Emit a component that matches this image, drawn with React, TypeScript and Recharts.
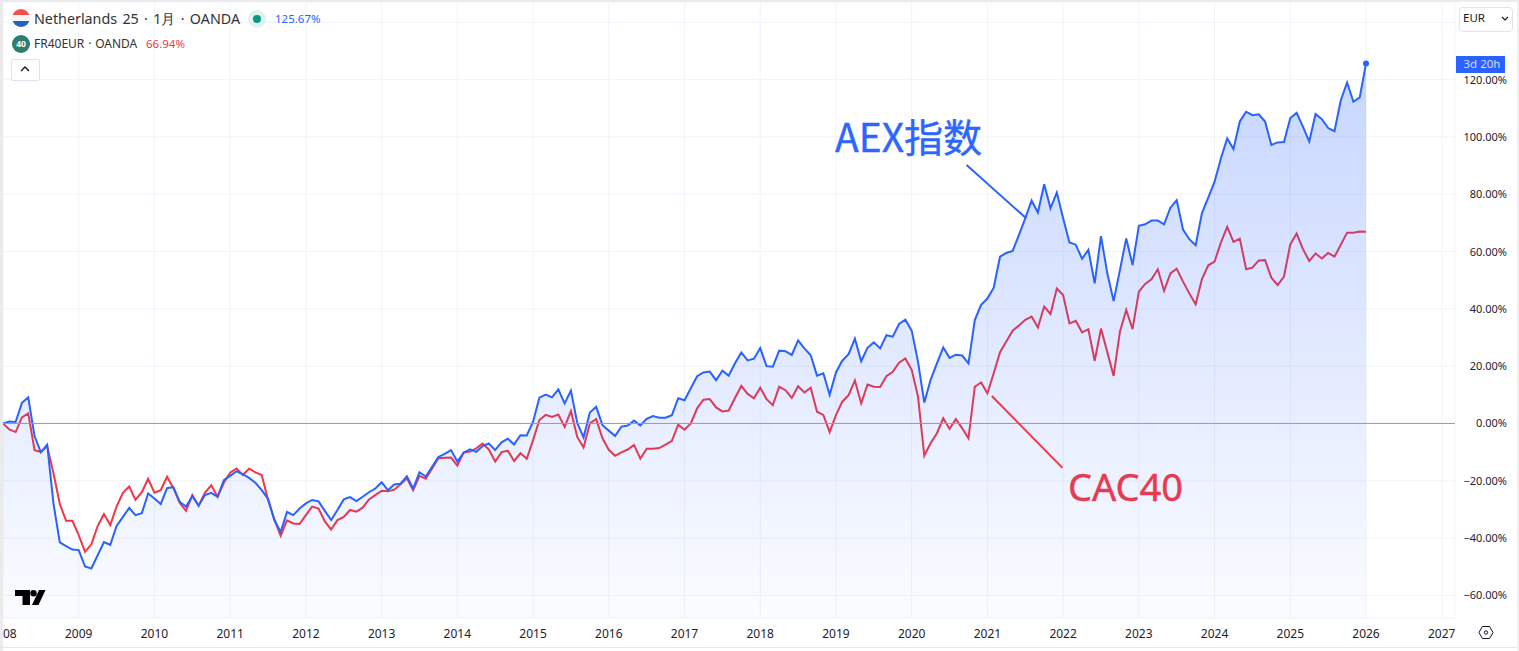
import React from "react";
import { ComposedChart, Area, Line, XAxis, YAxis, CartesianGrid, ReferenceLine, ReferenceDot } from "recharts";

const yearLabels = ["08","2009","2010","2011","2012","2013","2014","2015","2016","2017","2018","2019","2020","2021","2022","2023","2024","2025","2026","2027"];
const percentTicks = [-60,-40,-20,0,20,40,60,80,100,120,140];

const aexValues = [
  0,0.7,0.5,7.2,9.1,-4.4,-10.1,-7.4,-28,-41.5,-42.8,-44,
  -44.2,-49.9,-50.6,-46,-41.4,-42.4,-35.8,-32.6,-29.5,-32,-31.3,-24.4,
  -26.2,-28.1,-22.6,-22.2,-27.3,-29,-25.4,-28.7,-25,-24.2,-25.6,-19.8,
  -18.3,-16.7,-17.7,-19,-20.7,-23.3,-26.3,-33.7,-37.9,-30.9,-32,-29.7,
  -27.9,-26.7,-27.2,-30.5,-33.7,-30.2,-26.5,-25.7,-27.1,-25.6,-24,-22.7,
  -20.5,-23.3,-21.3,-21,-18.4,-22.7,-17,-18.5,-15.1,-11.7,-10.6,-9.3,
  -13.3,-10.2,-9,-9.9,-7.9,-7,-9.3,-6.6,-5.3,-7.3,-4.1,-4.2,
  0.6,9,10.1,9.1,11.9,7,11.5,0.2,-4.9,3.8,5.8,-0.6,
  -2.5,-4.4,-1.1,-0.7,1,-0.7,1.6,2.6,2,2,2.9,8.8,
  8.1,12.3,16.5,17.8,18.1,15.1,18.4,16.7,21,24.8,22,22.6,
  26.3,20,19.8,25.4,25.2,23.9,29,26.2,23.8,16.7,17.5,10,
  17.8,21.9,24.2,29.6,21.7,26.4,28.3,26.2,30.8,30.3,34.7,36.2,
  32.4,21.6,7.3,15.2,21,26.5,22.9,24,23.7,21,36.1,41.4,
  43.6,47.4,58.2,59.5,60.2,65.8,71.6,77.8,73.6,83.5,75.1,80.6,
  71.6,63.2,62.4,57.5,60.6,48.9,65.4,52.4,42.7,53.5,64.6,55.3,
  69,69.5,70.8,70.8,69.5,75.3,77.9,67.7,64.3,62.2,73.4,78.8,
  84.4,92.5,99.5,95.8,105.4,108.8,107.6,107.9,105.4,97.2,98.1,98.2,
  106.6,108.4,103.6,98.4,108,106.2,103.1,102,112.8,119,112.3,113.8,
  125.67,
];

const cacValues = [
  0,-2.1,-3,2.1,3.5,-9.3,-9.9,-7.9,-17.4,-28.1,-34,-34,
  -39,-44.8,-42.2,-35.8,-31.6,-35.5,-29,-24.2,-22,-26.7,-24,-19.3,
  -24.2,-23.3,-18.6,-22.6,-27.7,-30.5,-25,-28.7,-24.2,-21.6,-25.6,-20.7,
  -17.2,-15.7,-18,-15.8,-17.1,-18,-26.7,-33.5,-39.2,-33.8,-34.9,-35.1,
  -32,-29,-29.7,-34.2,-37,-33.7,-32.6,-30.2,-30.8,-29.4,-26.5,-25,
  -23.5,-23.7,-23.1,-21.2,-19.1,-23.3,-18.3,-19.3,-15.7,-12.1,-12,-11.9,
  -14.7,-10.1,-9.8,-8.7,-7,-9.1,-13.3,-10,-9.5,-13.1,-10.4,-12.3,
  -5.8,1.2,3,2.3,3.1,-1.2,4.3,-4.7,-8.4,0,1.5,-5.2,
  -9.2,-11.3,-10.1,-9.1,-7.5,-12.3,-8.8,-8.8,-8.6,-7.4,-6.1,-0.4,
  -2.2,0,5.3,8.3,8.5,5.6,4.2,4.5,8.9,13.1,10.3,8.8,
  12.5,8.5,6.4,12.8,11.6,8.9,13,10.8,12.5,4.1,3,-3,
  2.9,7.6,9.9,15,7,13.6,12.8,12.7,16.5,18,21.2,22.7,
  18.7,9.4,-11.2,-6.9,-3.4,1.8,-1.9,1.5,-1.7,-5.2,12.8,14.3,
  10.5,17.5,24.9,28.6,32.4,34.2,36.2,37.3,33.5,40.8,38.2,47.1,
  44.8,34.9,35.8,31.8,32.9,21.9,33.1,24.9,16.6,32,39.6,32.9,
  46,48.7,50.3,53.8,46.3,52.4,54,49.5,45.4,41.6,50.4,55.2,
  56.5,63.1,68.6,63.4,64.5,53.8,54.4,56.9,57,50.9,48.3,51.3,
  62.5,66.3,60.9,56.7,59.3,57.6,59.5,58.2,62.4,66.6,66.6,67,
  66.94,
];

const rows = aexValues.map((aex, month) => ({ month, aex, cac: cacValues[month] }));
const monthTicks = yearLabels.map((_, k) => k * 12);

const BLUE = "#2962ff";
const RED = "#f23645";
const INK = "#131722";
const FONT = "'Noto Sans', sans-serif";
const Y_BOTTOM = -67.9;
const Y_TOP = 147.1;

const XTick = (props: any) => {
  const { x, y, payload } = props;
  const first = payload.value === 0;
  return (
    <text x={first ? 3 : x} y={y + 12} textAnchor={first ? "start" : "middle"} fontFamily={FONT} fontSize={12} fill="#1e222d">
      {yearLabels[payload.value / 12]}
    </text>
  );
};

const YTick = (props: any) => {
  const { y, payload } = props;
  const v = payload.value as number;
  if (v === 140) return <g />;
  const s = (v < 0 ? "\u2212" : "") + Math.abs(v).toFixed(2) + "%";
  return (
    <text x={1507} y={y + 4} textAnchor="end" fontFamily={FONT} fontSize={11} fill="#1e222d">
      {s}
    </text>
  );
};

const abs = (l: number, t: number, extra: React.CSSProperties = {}): React.CSSProperties => ({
  position: "absolute", left: l, top: t, whiteSpace: "nowrap", fontFamily: FONT, ...extra,
});

export default function App() {
  return (
    <div style={{ position: "absolute", left: 0, top: 0, width: 1519, height: 651, overflow: "hidden", background: "#fff" }}>
      <ComposedChart width={1519} height={651} data={rows} margin={{ left: 3, right: 0, top: 2, bottom: 0 }}>
        <defs>
          <linearGradient id="aexFill" x1="0" y1="0" x2="0" y2="1">
            <stop offset="0%" stopColor={BLUE} stopOpacity={0.26} />
            <stop offset="100%" stopColor={BLUE} stopOpacity={0.02} />
          </linearGradient>
        </defs>
        <CartesianGrid stroke="#f0f3fa" strokeWidth={1} />
        <XAxis dataKey="month" type="number" domain={[0, 230.1]} ticks={monthTicks} tick={XTick} height={33} axisLine={false} tickLine={false} interval={0} allowDataOverflow />
        <YAxis orientation="right" type="number" domain={[Y_BOTTOM, Y_TOP]} ticks={percentTicks} tick={YTick} width={64} axisLine={false} tickLine={false} interval={0} allowDataOverflow />
        <ReferenceLine y={0} stroke="#9b9ba8" strokeWidth={1} />
        <Line dataKey="cac" type="linear" stroke={RED} strokeWidth={2} dot={false} isAnimationActive={false} zIndex={50} />
        <Area dataKey="aex" type="linear" baseValue={Y_BOTTOM} stroke={BLUE} strokeWidth={2} fill="url(#aexFill)" fillOpacity={1} dot={false} isAnimationActive={false} zIndex={100} />
        <ReferenceDot x={216} y={125.67} r={3} fill={BLUE} stroke={BLUE} strokeWidth={0} />
        <ReferenceLine segment={[{ x: 152.7, y: 90.2 }, { x: 162.1, y: 71.7 }]} stroke={BLUE} strokeWidth={2} />
        <ReferenceLine segment={[{ x: 156.7, y: 9.6 }, { x: 167.9, y: -15.5 }]} stroke={RED} strokeWidth={2} />
      </ComposedChart>

      {/* frame */}
      <div style={{ position: "absolute", left: 0, top: 0, width: 3, height: 651, background: "#ebebeb" }} />
      <div style={{ position: "absolute", left: 0, top: 0, width: 1519, height: 2, background: "#ebebeb" }} />
      <div style={{ position: "absolute", left: 0, top: 647, width: 1519, height: 1, background: "#e6e6e6" }} />
      <div style={{ position: "absolute", left: 1517, top: 0, width: 2, height: 651, background: "#f0f0f0" }} />

      {/* annotations */}
      <div style={abs(835, 110, { color: "#2d66ff", fontSize: 39, lineHeight: "50px", WebkitTextStroke: "0.4px #2d66ff", fontFamily: "'Noto Sans CJK SC', 'Noto Sans', sans-serif" })}>AEX指数</div>
      <div style={abs(1068, 460, { color: "#e73a51", fontSize: 38, lineHeight: "52px", WebkitTextStroke: "0.4px #e73a51", fontFamily: "'Noto Sans', sans-serif" })}>CAC40</div>

      {/* legend row 1 */}
      <svg style={{ position: "absolute", left: 12, top: 9 }} width={18} height={18}>
        <defs><clipPath id="flag"><circle cx={9} cy={9} r={9} /></clipPath></defs>
        <g clipPath="url(#flag)">
          <rect x={0} y={0} width={18} height={6} fill="#f0504e" />
          <rect x={0} y={6} width={18} height={6} fill="#f4f4f4" />
          <rect x={0} y={12} width={18} height={6} fill="#1e63c4" />
        </g>
      </svg>
      <div style={abs(34, 9, { fontSize: 14.3, wordSpacing: 1.6, lineHeight: "20px", color: "#333" })}>Netherlands 25 · 1月 · OANDA</div>
      <svg style={{ position: "absolute", left: 248, top: 10 }} width={18} height={18}>
        <circle cx={9} cy={9} r={9} fill="#dff3ef" />
        <circle cx={9} cy={9} r={4} fill="#089981" />
      </svg>
      <div style={abs(275, 10, { fontSize: 11.5, lineHeight: "18px", color: BLUE })}>125.67%</div>

      {/* legend row 2 */}
      <svg style={{ position: "absolute", left: 12, top: 35 }} width={18} height={18}>
        <circle cx={9} cy={9} r={9} fill="#2e7d6e" />
        <text x={9} y={12} textAnchor="middle" fontSize={8.5} fontWeight={700} fontFamily={FONT} fill="#fff">40</text>
      </svg>
      <div style={abs(34, 35, { fontSize: 12, wordSpacing: 0.7, lineHeight: "18px", color: "#333" })}>FR40EUR · OANDA</div>
      <div style={abs(146, 35, { fontSize: 11.5, lineHeight: "18px", color: RED })}>66.94%</div>

      {/* collapse button */}
      <div style={{ position: "absolute", left: 11, top: 59, width: 27, height: 20, border: "1px solid #e0e3eb", borderRadius: 2, background: "#fff" }} />
      <svg style={{ position: "absolute", left: 19, top: 65 }} width={12} height={8}>
        <path d="M2 6 L6 2 L10 6" fill="none" stroke="#131722" strokeWidth={1.4} />
      </svg>

      {/* currency button */}
      <div style={{ position: "absolute", left: 1459, top: 7, width: 52, height: 23, border: "1px solid #e0e3eb", borderRadius: 4, background: "#fff" }} />
      <div style={abs(1463, 9, { fontSize: 11.5, lineHeight: "18px", color: INK })}>EUR</div>
      <svg style={{ position: "absolute", left: 1501, top: 16 }} width={8} height={6}>
        <path d="M1 1 L4 4 L7 1" fill="none" stroke="#131722" strokeWidth={1.2} />
      </svg>

      {/* last value countdown */}
      <div style={{ position: "absolute", left: 1456, top: 56, width: 49, height: 17, background: BLUE }} />
      <div style={abs(1456, 56, { width: 49, textAlign: "center", paddingLeft: 3, boxSizing: "border-box", fontSize: 11.5, lineHeight: "16px", color: "#d4deff" })}>3d 20h</div>

      {/* logo */}
      <svg style={{ position: "absolute", left: 15, top: 590 }} width={31} height={16} viewBox="0 0 31 16">
        <path d="M0 0 H15 V15 H7.5 V6 H0 Z" fill="#000" />
        <circle cx={18.5} cy={3.2} r={3.2} fill="#000" />
        <path d="M24 0 H30.5 L23.5 15 H17 Z" fill="#000" />
      </svg>

      {/* settings */}
      <svg style={{ position: "absolute", left: 1478, top: 625 }} width={16} height={15} viewBox="0 0 16 15">
        <path d="M4.4 1.5 H11.6 L15 7.5 L11.6 13.5 H4.4 L1 7.5 Z" fill="none" stroke="#131722" strokeWidth={1} />
        <circle cx={8} cy={7.5} r={1.7} fill="none" stroke="#131722" strokeWidth={1} />
      </svg>
    </div>
  );
}
